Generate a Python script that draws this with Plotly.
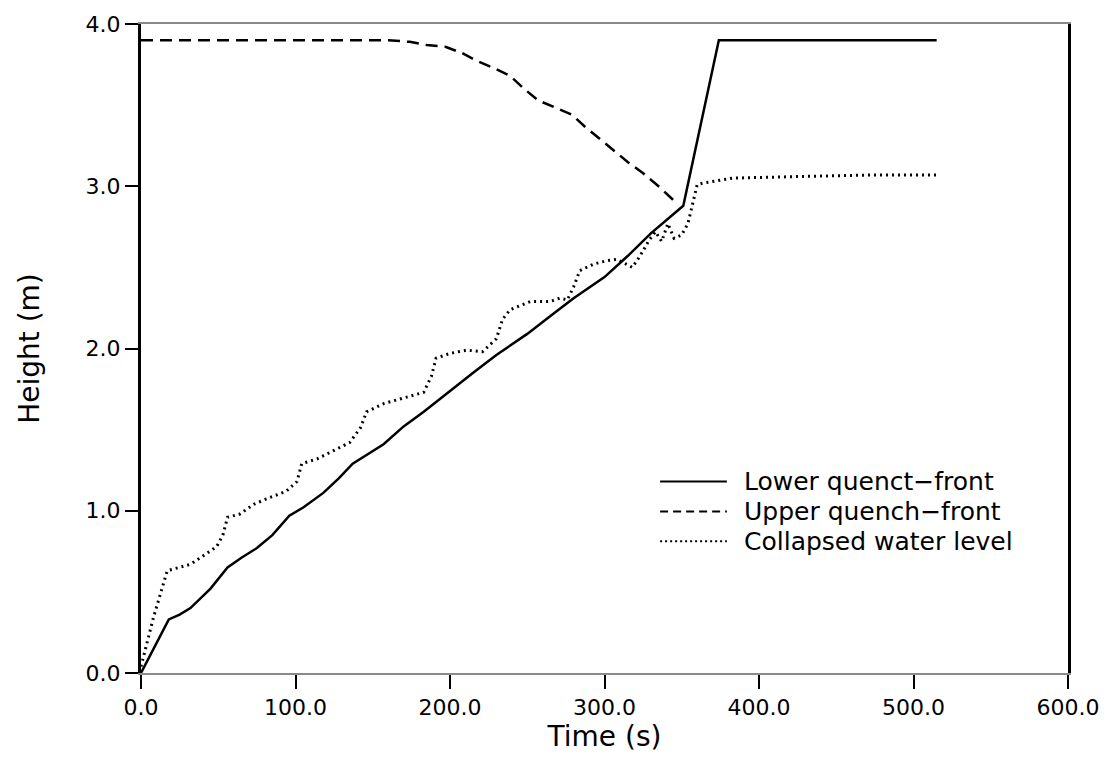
import plotly.graph_objects as go

# ---- data ----
lower_t = [0, 18, 25, 32, 45, 56, 65, 75, 85, 96, 105, 118, 128, 137, 157, 170, 183, 200, 215, 230, 250, 265, 280, 300, 315, 330, 340, 351, 374, 515]
lower_h = [0.0, 0.33, 0.36, 0.40, 0.52, 0.65, 0.71, 0.77, 0.85, 0.97, 1.02, 1.11, 1.20, 1.29, 1.41, 1.52, 1.61, 1.74, 1.85, 1.96, 2.09, 2.20, 2.31, 2.44, 2.57, 2.71, 2.79, 2.88, 3.90, 3.90]

upper_t = [0, 160, 174, 185, 197, 208, 218, 228, 239, 248, 257, 267, 279, 287, 297, 306, 315, 325, 335, 344, 346]
upper_h = [3.90, 3.90, 3.89, 3.87, 3.86, 3.82, 3.77, 3.73, 3.68, 3.60, 3.53, 3.49, 3.44, 3.37, 3.29, 3.22, 3.15, 3.08, 3.00, 2.92, 2.90]

water_t = [0, 8, 17, 25, 32, 43, 49, 53, 56, 64, 73, 83, 94, 101, 104, 114, 124, 135, 142, 146, 157, 168, 178, 183, 188, 191, 200, 211, 221, 230, 234, 239, 252, 265, 271, 276, 280, 284, 293, 301, 308, 312, 318, 323, 329, 333, 337, 341, 345, 350, 354, 357, 360, 364, 383, 426, 476, 515]
water_h = [0.04, 0.34, 0.63, 0.65, 0.67, 0.74, 0.78, 0.85, 0.96, 0.98, 1.04, 1.08, 1.12, 1.18, 1.29, 1.32, 1.37, 1.42, 1.51, 1.61, 1.66, 1.69, 1.72, 1.73, 1.83, 1.94, 1.97, 1.99, 1.98, 2.06, 2.18, 2.24, 2.29, 2.29, 2.31, 2.30, 2.38, 2.48, 2.52, 2.54, 2.55, 2.53, 2.50, 2.57, 2.67, 2.72, 2.66, 2.77, 2.68, 2.70, 2.77, 2.89, 3.01, 3.02, 3.05, 3.06, 3.07, 3.07]

series_names = ["Lower quenct\u2212front", "Upper quench\u2212front", "Collapsed water level"]
x_ticks = [0, 100, 200, 300, 400, 500, 600]
y_ticks = [0, 1, 2, 3, 4]

FONT = "DejaVu Sans"
styles = [dict(color="black", width=2.5, dash="solid"),
          dict(color="black", width=2.5, dash="12px,7px"),
          dict(color="black", width=3, dash="2px,4px")]

fig = go.Figure()
for (t, h), name, st in zip([(lower_t, lower_h), (upper_t, upper_h), (water_t, water_h)], series_names, styles):
    fig.add_trace(go.Scatter(x=t, y=h, mode="lines", name=name, line=st, showlegend=False))

# custom legend (line sample + text)
leg_x0, leg_x1, leg_tx = 0.560, 0.632, 0.648
leg_rows = [0.295, 0.249, 0.203]
leg_dash = ["solid", "8px,5px", "2px,3px"]
for name, d, yy in zip(series_names, leg_dash, leg_rows):
    fig.add_shape(type="line", xref="paper", yref="paper", x0=leg_x0, x1=leg_x1, y0=yy, y1=yy,
                  line=dict(color="black", width=2, dash=d))
    fig.add_annotation(xref="paper", yref="paper", x=leg_tx, y=yy, text=name, showarrow=False,
                       xanchor="left", yanchor="middle", font=dict(family=FONT, size=25, color="black"))

fig.update_layout(
    width=1112, height=760,
    margin=dict(l=141, r=44, t=19, b=87),
    paper_bgcolor="white", plot_bgcolor="white",
    font=dict(family=FONT, color="black"),
)
fig.update_xaxes(range=[0, 600], tickvals=x_ticks, tickformat=".1f",
                 showline=True, mirror=True, linecolor="#8a8a8a", linewidth=2,
                 ticks="outside", ticklen=14, tickwidth=2, tickcolor="black",
                 showgrid=False, zeroline=False,
                 tickfont=dict(family=FONT, size=22, color="black"),
                 title=dict(text="Time (s)", font=dict(family=FONT, size=28, color="black"), standoff=2))
fig.update_yaxes(range=[0, 4], tickvals=y_ticks, tickformat=".1f",
                 showline=True, mirror=True, linecolor="black", linewidth=3,
                 ticks="outside", ticklen=13, tickwidth=2, tickcolor="black",
                 showgrid=False, zeroline=False,
                 tickfont=dict(family=FONT, size=22, color="black"),
                 title=dict(text="Height (m)", font=dict(family=FONT, size=28, color="black"), standoff=38))

fig.write_html("out.html")
